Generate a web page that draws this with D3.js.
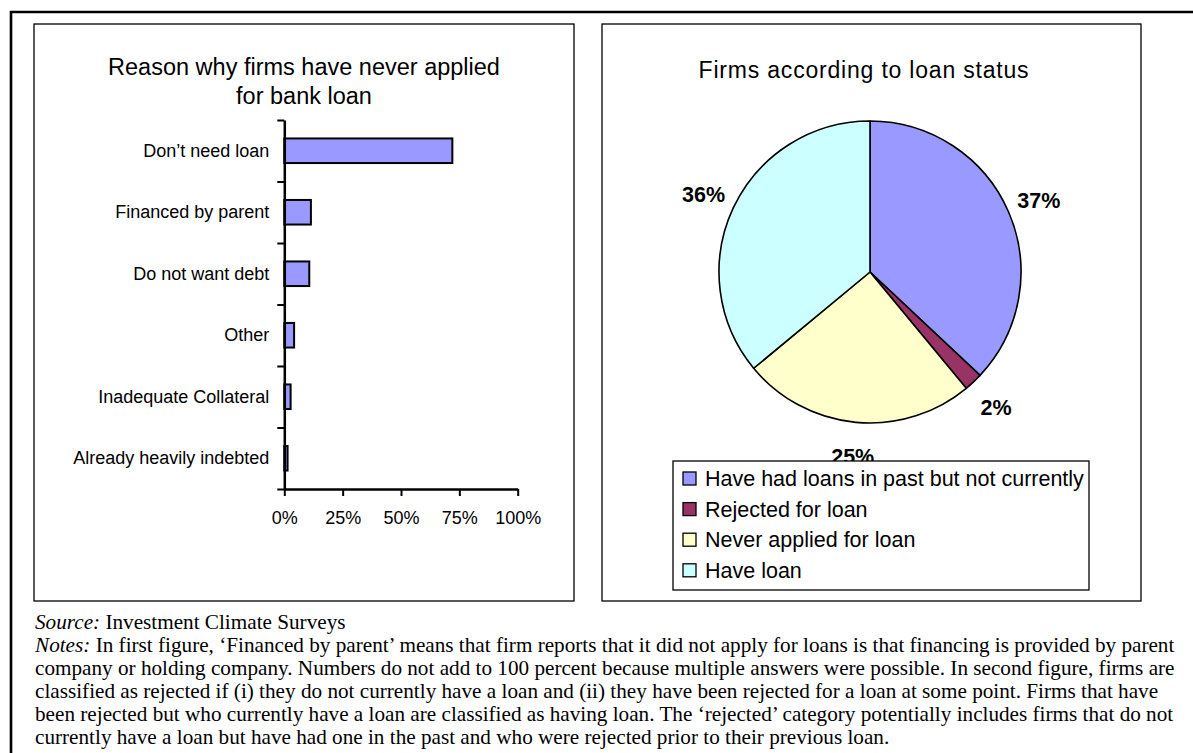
<!DOCTYPE html>
<html>
<head>
<meta charset="utf-8">
<script src="https://cdn.jsdelivr.net/npm/d3@7"></script>
<style>
  html, body { margin: 0; padding: 0; background: #fff; }
  svg { display: block; }
  .sans { font-family: "Liberation Sans", Arial, Helvetica, sans-serif; fill: #000; }
  .serif { font-family: "Liberation Serif", "Times New Roman", serif; fill: #000; }
</style>
</head>
<body>
<svg id="chart" width="1193" height="753"></svg>
<script>
// ---- data ----
const reasons = [
  "Don’t need loan",
  "Financed by parent",
  "Do not want debt",
  "Other",
  "Inadequate Collateral",
  "Already heavily indebted"
];
const reasonShares = [0.72, 0.114, 0.107, 0.042, 0.027, 0.014];
const xTickValues = [0, 0.25, 0.5, 0.75, 1];

const statusLabels = [
  "Have had loans in past but not currently",
  "Rejected for loan",
  "Never applied for loan",
  "Have loan"
];
const statusShares = [37, 2, 25, 36];
const statusColors = ["#9999FF", "#993366", "#FFFFCC", "#CCFFFF"];

const barTitle = ["Reason why firms have never applied", "for bank loan"];
const pieTitle = "Firms according to loan status";

const sourceText = "Investment Climate Surveys";
const noteLines = [
  "In first figure, ‘Financed by parent’ means that firm reports that it did not apply for loans is that financing is provided by parent",
  "company or holding company. Numbers do not add to 100 percent because multiple answers were possible. In second figure, firms are",
  "classified as rejected if (i) they do not currently have a loan and (ii) they have been rejected for a loan at some point. Firms that have",
  "been rejected but who currently have a loan are classified as having loan. The ‘rejected’ category potentially includes firms that do not",
  "currently have a loan but have had one in the past and who were rejected prior to their previous loan."
];

// ---- layout ----
const svg = d3.select("#chart");

// outer frame (open to the right and bottom)
svg.append("path")
  .attr("d", "M11,770 V12 H1210")
  .attr("fill", "none").attr("stroke", "#000").attr("stroke-width", 2.6);

// chart panels
const panels = [
  { x: 34, y: 24, w: 540, h: 577 },
  { x: 602, y: 24, w: 539, h: 577 }
];
svg.selectAll("rect.panel").data(panels).join("rect")
  .attr("class", "panel")
  .attr("x", d => d.x).attr("y", d => d.y)
  .attr("width", d => d.w).attr("height", d => d.h)
  .attr("fill", "#fff").attr("stroke", "#000").attr("stroke-width", 1.3);

// ---- horizontal bar chart ----
const plotLeft = 284.3, plotRight = 517.7, plotTop = 120, plotBottom = 489;

const x = d3.scaleLinear().domain([0, 1]).range([plotLeft, plotRight]);
const y = d3.scaleBand().domain(reasons).range([plotTop, plotBottom])
  .paddingInner(0.6).paddingOuter(0.3);

svg.append("g").selectAll("text").data(barTitle).join("text")
  .attr("class", "sans")
  .attr("x", 304).attr("y", (d, i) => 75 + i * 29)
  .attr("text-anchor", "middle")
  .style("font-size", "23.5px")
  .text(d => d);

svg.append("g").selectAll("rect").data(reasons).join("rect")
  .attr("x", x(0))
  .attr("y", d => y(d))
  .attr("width", (d, i) => x(reasonShares[i]) - x(0))
  .attr("height", y.bandwidth())
  .attr("fill", "#9999FF").attr("stroke", "#000").attr("stroke-width", 2);

// category boundaries on the vertical axis
const yEdge = d3.scaleLinear().domain([0, reasons.length]).range([plotBottom, plotTop]);
const yAxisG = svg.append("g").attr("transform", `translate(${plotLeft},0)`)
  .call(d3.axisLeft(yEdge).tickValues(d3.range(reasons.length + 1)).tickSize(7).tickSizeOuter(0).tickFormat(""));

// category labels
const yLabelG = svg.append("g").attr("transform", `translate(${plotLeft},0)`)
  .call(d3.axisLeft(y).tickSize(0).tickPadding(15));
yLabelG.select(".domain").remove();
yLabelG.selectAll("text").attr("class", "sans").style("font-size", "18px").attr("fill", "#000");

// value axis
const xAxisG = svg.append("g").attr("transform", `translate(0,${plotBottom})`)
  .call(d3.axisBottom(x).tickValues(xTickValues).tickSize(7).tickSizeOuter(0)
    .tickPadding(15).tickFormat(d3.format(".0%")));
xAxisG.selectAll("text").attr("class", "sans").style("font-size", "18px").attr("fill", "#000");

[yAxisG, xAxisG].forEach(g => {
  g.select(".domain").attr("stroke-width", 2.5).attr("stroke", "#000");
  g.selectAll(".tick line").attr("stroke-width", 2).attr("stroke", "#000");
});

// ---- pie chart ----
const cx = 870, cy = 272, radius = 151;

svg.append("text")
  .attr("class", "sans")
  .attr("x", 864).attr("y", 78)
  .attr("text-anchor", "middle")
  .style("font-size", "23px")
  .style("letter-spacing", "0.8px")
  .text(pieTitle);

const pie = d3.pie().sort(null).value(d => d);
const arcs = pie(statusShares);
const arc = d3.arc().innerRadius(0).outerRadius(radius);
const labelArc = d3.arc().innerRadius(184).outerRadius(184);

const pieG = svg.append("g").attr("transform", `translate(${cx},${cy})`);
pieG.selectAll("path").data(arcs).join("path")
  .attr("d", arc)
  .attr("fill", (d, i) => statusColors[i])
  .attr("stroke", "#000").attr("stroke-width", 1.6).attr("stroke-linejoin", "round");

pieG.selectAll("text").data(arcs).join("text")
  .attr("class", "sans")
  .attr("transform", d => `translate(${labelArc.centroid(d)})`)
  .attr("text-anchor", "middle")
  .attr("dy", "0.4em")
  .style("font-size", "21.5px").style("font-weight", "bold")
  .text(d => d.data + "%");

// legend
const legend = svg.append("g").attr("transform", "translate(673,461)");
legend.append("rect")
  .attr("width", 416).attr("height", 129)
  .attr("fill", "#fff").attr("stroke", "#000").attr("stroke-width", 1.3);
const rows = legend.selectAll("g.row").data(statusLabels).join("g")
  .attr("class", "row")
  .attr("transform", (d, i) => `translate(0,${17.5 + i * 30.6})`);
rows.append("rect")
  .attr("x", 10).attr("y", -6.5).attr("width", 13).attr("height", 13)
  .attr("fill", (d, i) => statusColors[i]).attr("stroke", "#000").attr("stroke-width", 1.3);
rows.append("text")
  .attr("class", "sans")
  .attr("x", 32).attr("dy", "0.36em")
  .style("font-size", "21.5px")
  .text(d => d);

// ---- source and notes ----
const foot = svg.append("g").attr("class", "serif").style("font-size", "21.2px");
const firstBaseline = 629, lineGap = 23;
const srcLine = foot.append("text").attr("x", 35).attr("y", firstBaseline);
srcLine.append("tspan").style("font-style", "italic").text("Source:");
srcLine.append("tspan").text(" " + sourceText);

foot.selectAll("text.note").data(noteLines).join("text")
  .attr("class", "note")
  .attr("x", 35).attr("y", (d, i) => firstBaseline + (i + 1) * lineGap)
  .each(function (d, i) {
    const t = d3.select(this);
    if (i === 0) t.append("tspan").style("font-style", "italic").text("Notes:");
    t.append("tspan").text((i === 0 ? " " : "") + d);
  });
</script>
</body>
</html>
